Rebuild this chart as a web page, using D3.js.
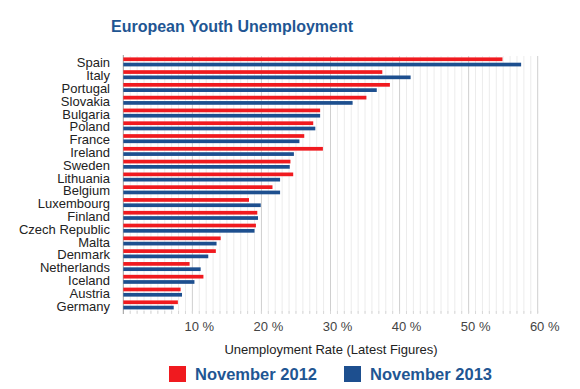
<!doctype html>
<html>
<body style="margin:0;background:#fff">
<svg width="580" height="389" font-family="'Liberation Sans', Arial, sans-serif"></svg>
<script src="https://d3js.org/d3.v7.min.js"></script>
<script>
  let countries = ["Spain", "Italy", "Portugal", "Slovakia", "Bulgaria", "Poland", "France",
    "Ireland", "Sweden", "Lithuania", "Belgium", "Luxembourg", "Finland", "Czech Republic",
    "Malta", "Denmark", "Netherlands", "Iceland", "Austria", "Germany"];
  let nov2012 = [54.9, 37.5, 38.6, 35.2, 28.5, 27.5, 26.2, 28.9, 24.2, 24.6, 21.6, 18.2, 19.4,
    19.2, 14.1, 13.4, 9.6, 11.6, 8.3, 7.9];
  let nov2013 = [57.6, 41.6, 36.7, 33.2, 28.5, 27.8, 25.5, 24.7, 24.1, 22.7, 22.7, 19.9, 19.5,
    19.0, 13.5, 12.3, 11.2, 10.3, 8.5, 7.3];
  let seriesNames = ["November 2012", "November 2013"];
  let tickValues = [10, 20, 30, 40, 50, 60];

  let svg = d3.select("svg");
  let red = "#f01a1f", blue = "#1d4f8f", titleBlue = "#1f5693";

  let x = d3.scaleLinear().domain([0, 60]).range([123.3, 537.7]);
  let y = d3.scaleBand().domain(countries).range([55.6, 311.4]);
  let sub = d3.scaleBand().domain(seriesNames).range([1.8, 10.8]).paddingInner(0.3);
  let color = d3.scaleOrdinal().domain(seriesNames).range([red, blue]);

  let rows = countries.map((c, i) => ({country: c, values: [nov2012[i], nov2013[i]]}));

  // title
  svg.append("text")
    .attr("x", 111).attr("y", 32)
    .attr("font-size", 16).attr("font-weight", "bold")
    .attr("fill", titleBlue)
    .text("European Youth Unemployment");

  // grid, minor every 1 %, major every 10 %
  let grid = svg.append("g");
  grid.selectAll("line")
    .data(d3.range(1, 61))
    .enter().append("line")
    .attr("x1", d => x(d)).attr("x2", d => x(d))
    .attr("y1", 56).attr("y2", 313)
    .attr("stroke", d => d % 10 === 0 ? "#cfcfcf" : "#ececec")
    .attr("stroke-width", 1);

  // little ticks at bottom
  grid.selectAll(".tk")
    .data(d3.range(1, 61))
    .enter().append("line")
    .attr("class", "tk")
    .attr("x1", d => x(d)).attr("x2", d => x(d))
    .attr("y1", 311).attr("y2", 314)
    .attr("stroke", "#d8d8d8");

  // left axis line
  svg.append("line")
    .attr("x1", x(0)).attr("x2", x(0))
    .attr("y1", 55).attr("y2", 314)
    .attr("stroke", "#9a9a9a");

  // bars
  let row = svg.selectAll(".row")
    .data(rows)
    .enter().append("g")
    .attr("class", "row")
    .attr("transform", d => "translate(0," + y(d.country) + ")");

  row.selectAll("rect")
    .data(d => d.values.map((v, i) => ({series: seriesNames[i], value: v})))
    .enter().append("rect")
    .attr("x", x(0))
    .attr("y", d => sub(d.series))
    .attr("width", d => x(d.value) - x(0))
    .attr("height", sub.bandwidth())
    .attr("fill", d => color(d.series));

  // country labels
  svg.append("g").selectAll("text")
    .data(countries)
    .enter().append("text")
    .attr("x", 110)
    .attr("y", d => y(d) + y.bandwidth() / 2 + 1)
    .attr("text-anchor", "end")
    .attr("dominant-baseline", "central")
    .attr("font-size", 13)
    .attr("fill", "#222")
    .text(d => d);

  // tick labels
  svg.append("g").selectAll("text")
    .data(tickValues)
    .enter().append("text")
    .attr("x", d => x(d) + 7)
    .attr("y", 331)
    .attr("text-anchor", "middle")
    .attr("font-size", 13)
    .attr("fill", "#444")
    .text(d => d + " %");

  svg.append("text")
    .attr("x", 331).attr("y", 354)
    .attr("text-anchor", "middle")
    .attr("font-size", 13)
    .attr("fill", "#222")
    .text("Unemployment Rate (Latest Figures)");

  // legend
  let legendX = [169, 344];
  let legend = svg.selectAll(".legend")
    .data(seriesNames)
    .enter().append("g")
    .attr("class", "legend")
    .attr("transform", (d, i) => "translate(" + legendX[i] + ",366)");

  legend.append("rect")
    .attr("width", 17).attr("height", 16)
    .attr("fill", d => color(d));

  legend.append("text")
    .attr("x", 26).attr("y", 14)
    .attr("font-size", 16.5).attr("font-weight", "bold")
    .attr("fill", titleBlue)
    .text(d => d);
</script>
</body>
</html>
